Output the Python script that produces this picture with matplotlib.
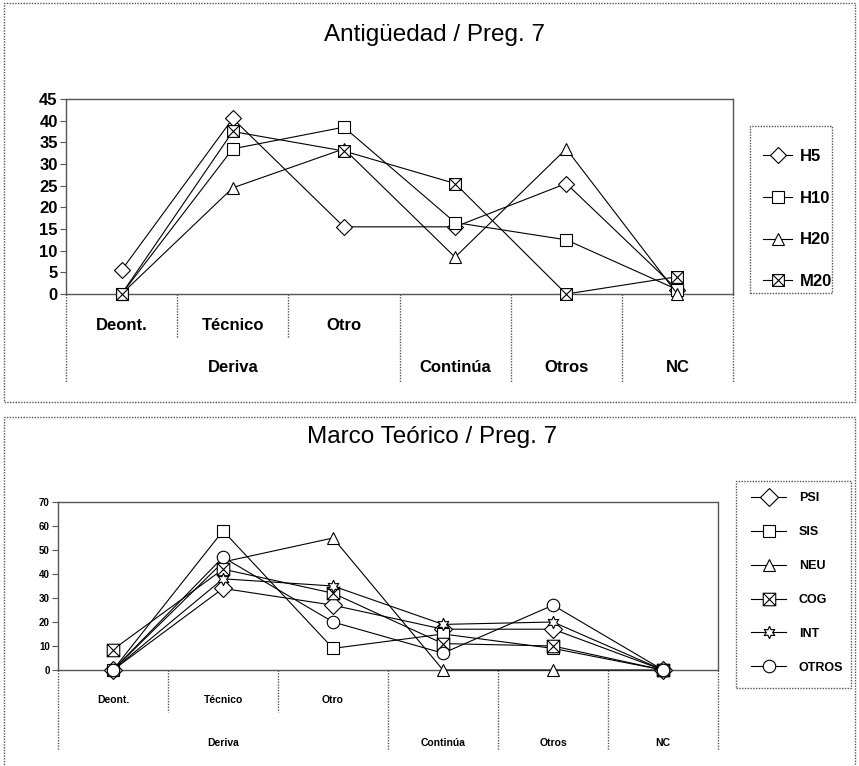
import matplotlib
matplotlib.use("Agg")
import matplotlib.pyplot as plt
from matplotlib.path import Path
from matplotlib.patches import Rectangle
from matplotlib.transforms import blended_transform_factory

plt.rcParams['font.family'] = ['Liberation Sans', 'DejaVu Sans']

# categories shared by both charts
categories = ["Deont.", "Técnico", "Otro", "Continúa", "Otros", "NC"]
groups = ["Deriva", "Continúa", "Otros", "NC"]

# Antigüedad / Preg. 7
antig_names = ["H5", "H10", "H20", "M20"]
h5 = [5.5, 40.5, 15.5, 15.5, 25.5, 1]
h10 = [0, 33.5, 38.5, 16.5, 12.5, 1]
h20 = [0, 24.5, 33.5, 8.5, 33.5, 0]
m20 = [0, 37.5, 33, 25.5, 0, 4]

# Marco Teórico / Preg. 7
marco_names = ["PSI", "SIS", "NEU", "COG", "INT", "OTROS"]
psi = [0, 34, 27, 17, 17, 0]
sis = [0, 58, 9, 15, 9, 0]
neu = [0, 45, 55, 0, 0, 0]
cog = [8.5, 42, 32, 11, 10, 0]
inte = [0, 38, 35, 19, 20, 0]
otros = [0, 47, 20, 7, 27, 0]

W, H = 859, 766
GRID = "#555555"
DOT = (0, (1, 1))

# square with both diagonals drawn through it
crossed_sq = Path(
    [(-1, -1), (1, -1), (1, 1), (-1, 1), (-1, -1),
     (-1, -1), (1, 1), (-1, 1), (1, -1)],
    [Path.MOVETO, Path.LINETO, Path.LINETO, Path.LINETO, Path.CLOSEPOLY,
     Path.MOVETO, Path.LINETO, Path.MOVETO, Path.LINETO])
star6 = (6, 1, 0)


def px_rect(x0, y0, x1, y1):
    return [x0 / W, 1 - y1 / H, (x1 - x0) / W, (y1 - y0) / H]


def frame(x0, y0, x1, y1):
    l, b, w, h = px_rect(x0, y0, x1, y1)
    fig.add_artist(Rectangle((l, b), w, h, transform=fig.transFigure,
                             fill=False, ec=GRID, lw=1, ls=DOT))


def draw_chart(ax, data, names, markers, ymax, step, msize, tick_fs, cat_fs,
               row1, short_y, row2, long_y):
    x = list(range(len(categories)))
    for vals, name, mk in zip(data, names, markers):
        ax.plot(x, vals, color="black", lw=0.8, marker=mk, markersize=msize,
                markerfacecolor="white", markeredgecolor="black",
                markeredgewidth=0.8, label=name, clip_on=False, zorder=3)
    ax.set_xlim(-0.5, len(categories) - 0.5)
    ax.set_ylim(0, ymax)
    ax.set_yticks(range(0, ymax + 1, step))
    ax.set_xticks([])
    for lab in ax.get_yticklabels():
        lab.set_fontweight("bold")
        lab.set_fontsize(tick_fs)
    ax.tick_params(axis="y", length=4, width=0.8, color=GRID, pad=2)
    for sp in ax.spines.values():
        sp.set_linestyle(DOT)
        sp.set_color(GRID)
        sp.set_linewidth(1)

    trans = blended_transform_factory(ax.transData, ax.transAxes)
    for i, c in enumerate(categories[:3]):
        ax.text(i, row1, c, transform=trans, ha="center", va="center",
                fontsize=cat_fs, fontweight="bold")
    for xs in (0.5, 1.5):
        ax.plot([xs, xs], [0, short_y], transform=trans, color=GRID, lw=1,
                ls=DOT, clip_on=False)
    for xs in (-0.5, 2.5, 3.5, 4.5, 5.5):
        ax.plot([xs, xs], [0, long_y], transform=trans, color=GRID, lw=1,
                ls=DOT, clip_on=False)
    for gx, g in zip((1, 3, 4, 5), groups):
        ax.text(gx, row2, g, transform=trans, ha="center", va="center",
                fontsize=cat_fs, fontweight="bold")


fig = plt.figure(figsize=(W / 100, H / 100), dpi=100)

# panel frames
frame(4, 3, 855, 402)
frame(4, 417, 855, 768)

fig.text(434 / W, 1 - 35 / H, "Antigüedad / Preg. 7", ha="center",
         va="center", fontsize=17.5)
fig.text(432 / W, 1 - 437 / H, "Marco Teórico / Preg. 7", ha="center",
         va="center", fontsize=17.5)

ax1 = fig.add_axes(px_rect(66, 99, 733, 294))
draw_chart(ax1, [h5, h10, h20, m20], antig_names, ["D", "s", "^", crossed_sq],
           45, 5, 8.5, 12, 12,
           row1=-0.159, short_y=-0.226, row2=-0.379, long_y=-0.451)
frame(750, 126, 832, 293)
ax1.legend(loc="center left", bbox_to_anchor=(755 / W, 1 - 219 / H),
           bbox_transform=fig.transFigure, frameon=False,
           borderpad=0, labelspacing=1.6, handlelength=1.7,
           handletextpad=0.5, prop={"weight": "bold", "size": 12})

ax2 = fig.add_axes(px_rect(58, 502, 718, 670))
draw_chart(ax2, [psi, sis, neu, cog, inte, otros], marco_names,
           ["D", "s", "^", crossed_sq, star6, "o"],
           70, 10, 9, 7, 7.5,
           row1=-0.179, short_y=-0.25, row2=-0.435, long_y=-0.476)
frame(736, 481, 851, 688)
ax2.legend(loc="center left", bbox_to_anchor=(745 / W, 1 - 583 / H),
           bbox_transform=fig.transFigure, frameon=False,
           borderpad=0, labelspacing=1.75, handlelength=2.8,
           handletextpad=1.0, prop={"weight": "bold", "size": 9})

fig.savefig("out.png", dpi=100)
